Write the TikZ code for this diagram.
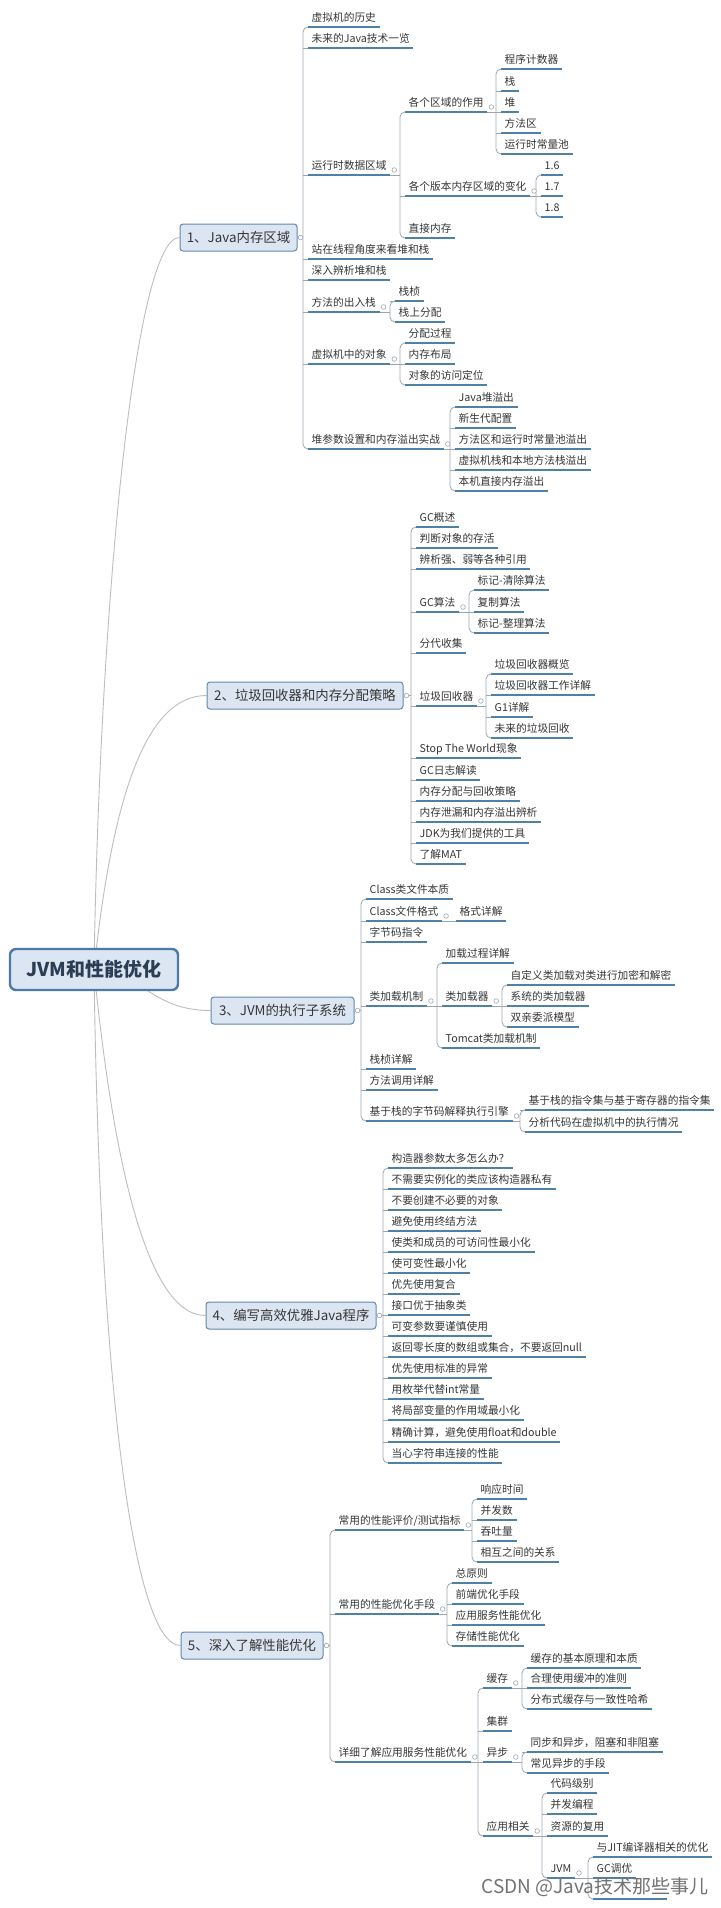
\documentclass[tikz,border=0pt]{standalone}
\usepackage{fontspec}
\setmainfont{Noto Sans CJK SC}
\usetikzlibrary{calc,backgrounds}
\definecolor{txt}{HTML}{363636}
\definecolor{ulc}{HTML}{4F80A6}
\definecolor{cnc}{HTML}{9CA6B0}
\definecolor{rootc}{HTML}{BEBEBE}
\definecolor{boxf}{HTML}{DCE6F2}
\definecolor{boxd}{HTML}{6586AE}
\definecolor{rootd}{HTML}{4C7AAE}
\definecolor{roott}{HTML}{2C3E55}
\newcommand\lfn[4]{\node[leaf] (#1) at (#2,#3) {#4};\draw[uline] (#1.south west) -- (#1.south east);}
\newcommand\mfam[4]{%
  \coordinate (trk) at ($(#2.south west)+(-5,0)$);
  \draw[conn, rounded corners=5pt] (#2.south west) -- (trk) -- (trk |- #3.south west) -- (#3.south west);
  \draw[conn] (#1) -- (#1 -| trk);
  \foreach \c in {#4} {\draw[conn] (\c.south west) -- (\c.south west -| trk);}
}
\begin{document}
\begin{tikzpicture}[x=1pt,y=-1pt,
  leaf/.style={anchor=south west, inner xsep=3.5pt, inner ysep=3pt, text height=9pt, text depth=2pt,
    font=\fontsize{10.7}{12}\selectfont, text=txt},
  uline/.style={draw=ulc, line width=1.6pt},
  conn/.style={draw=cnc, line width=0.8pt},
  rcurve/.style={draw=rootc, line width=0.9pt},
  br/.style={draw=boxd, fill=boxf, rounded corners=3pt, line width=1pt, minimum height=27pt,
    font=\fontsize{13.4}{15}\selectfont, text=txt, inner sep=0pt},
  rootbox/.style={draw=rootd, fill=boxf, rounded corners=6pt, line width=2.4pt, minimum width=168pt,
    minimum height=41pt, font=\bfseries\fontsize{19}{21}\selectfont, text=roott, inner sep=0pt},
  dotc/.style={circle, draw=cnc, fill=white, line width=0.6pt, inner sep=0pt, minimum size=4.6pt}
]
\useasboundingbox (0,0) rectangle (720,1908);

% root and main branches
\node[rootbox] (R) at (94,969.5) {JVM和性能优化};
\node[br, minimum width=117pt] (B1) at (238.5,237.5) {1、Java内存区域};
\node[br, minimum width=196pt] (B2) at (305,695.5) {2、垃圾回收器和内存分配策略};
\node[br, minimum width=143pt] (B3) at (282.5,1010.5) {3、JVM的执行子系统};
\node[br, minimum width=170pt] (B4) at (291,1315.5) {4、编写高效优雅Java程序};
\node[br, minimum width=142pt] (B5) at (252,1645.5) {5、深入了解性能优化};

% branch 1
\lfn{a1}{308}{27}{虚拟机的历史}
\lfn{a2}{308}{48}{未来的Java技术一览}
\lfn{a3}{308}{175}{运行时数据区域}
\lfn{a31}{405}{112}{各个区域的作用}
\lfn{a311}{501}{69}{程序计数器}
\lfn{a312}{501}{91}{栈}
\lfn{a313}{501}{112}{堆}
\lfn{a314}{501}{133}{方法区}
\lfn{a315}{501}{154}{运行时常量池}
\lfn{a32}{405}{196}{各个版本内存区域的变化}
\lfn{a321}{541}{175}{1.6}
\lfn{a322}{541}{196}{1.7}
\lfn{a323}{541}{217}{1.8}
\lfn{a33}{405}{238}{直接内存}
\lfn{a4}{308}{259}{站在线程角度来看堆和栈}
\lfn{a5}{308}{280}{深入辨析堆和栈}
\lfn{a6}{308}{312}{方法的出入栈}
\lfn{a61}{395}{301}{栈桢}
\lfn{a62}{395}{322}{栈上分配}
\lfn{a7}{308}{364}{虚拟机中的对象}
\lfn{a71}{405}{343}{分配过程}
\lfn{a72}{405}{364}{内存布局}
\lfn{a73}{405}{385}{对象的访问定位}
\lfn{a8}{308}{449}{堆参数设置和内存溢出实战}
\lfn{a81}{455}{407}{Java堆溢出}
\lfn{a82}{455}{428}{新生代配置}
\lfn{a83}{455}{449}{方法区和运行时常量池溢出}
\lfn{a84}{455}{470}{虚拟机栈和本地方法栈溢出}
\lfn{a85}{455}{491}{本机直接内存溢出}

% branch 2
\lfn{b1}{416}{527}{GC概述}
\lfn{b2}{416}{548}{判断对象的存活}
\lfn{b3}{416}{569}{辨析强、弱等各种引用}
\lfn{b4}{416}{612}{GC算法}
\lfn{b41}{474}{590}{标记-清除算法}
\lfn{b42}{474}{612}{复制算法}
\lfn{b43}{474}{633}{标记-整理算法}
\lfn{b5}{416}{653}{分代收集}
\lfn{b6}{416}{706}{垃圾回收器}
\lfn{b61}{491}{674}{垃圾回收器概览}
\lfn{b62}{491}{695}{垃圾回收器工作详解}
\lfn{b63}{491}{717}{G1详解}
\lfn{b64}{491}{738}{未来的垃圾回收}
\lfn{b7}{416}{758}{Stop The World现象}
\lfn{b8}{416}{780}{GC日志解读}
\lfn{b9}{416}{801}{内存分配与回收策略}
\lfn{b10}{416}{822}{内存泄漏和内存溢出辨析}
\lfn{b11}{416}{843}{JDK为我们提供的工具}
\lfn{b12}{416}{864}{了解MAT}

% branch 3
\lfn{c1}{366}{899}{Class类文件本质}
\lfn{c2}{366}{921}{Class文件格式}
\lfn{c21}{456}{921}{格式详解}
\lfn{c3}{366}{942}{字节码指令}
\lfn{c4}{366}{1006}{类加载机制}
\lfn{c41}{442}{963}{加载过程详解}
\lfn{c42}{442}{1006}{类加载器}
\lfn{c421}{507}{985}{自定义类加载对类进行加密和解密}
\lfn{c422}{507}{1006}{系统的类加载器}
\lfn{c423}{507}{1027}{双亲委派模型}
\lfn{c43}{442}{1048}{Tomcat类加载机制}
\lfn{c5}{366}{1069}{栈桢详解}
\lfn{c6}{366}{1090}{方法调用详解}
\lfn{c7}{366}{1121}{基于栈的字节码解释执行引擎}
\lfn{c71}{525}{1110}{基于栈的指令集与基于寄存器的指令集}
\lfn{c72}{525}{1132}{分析代码在虚拟机中的执行情况}

% branch 4
\lfn{d1}{388}{1168}{构造器参数太多怎么办？}
\lfn{d2}{388}{1189}{不需要实例化的类应该构造器私有}
\lfn{d3}{388}{1210}{不要创建不必要的对象}
\lfn{d4}{388}{1231}{避免使用终结方法}
\lfn{d5}{388}{1252}{使类和成员的可访问性最小化}
\lfn{d6}{388}{1273}{使可变性最小化}
\lfn{d7}{388}{1294}{优先使用复合}
\lfn{d8}{388}{1315}{接口优于抽象类}
\lfn{d9}{388}{1336}{可变参数要谨慎使用}
\lfn{d10}{388}{1357}{返回零长度的数组或集合，不要返回null}
\lfn{d11}{388}{1378}{优先使用标准的异常}
\lfn{d12}{388}{1399}{用枚举代替int常量}
\lfn{d13}{388}{1420}{将局部变量的作用域最小化}
\lfn{d14}{388}{1442}{精确计算，避免使用float和double}
\lfn{d15}{388}{1463}{当心字符串连接的性能}

% branch 5
\lfn{e1}{335}{1530}{常用的性能评价/测试指标}
\lfn{e11}{477}{1499}{响应时间}
\lfn{e12}{477}{1520}{并发数}
\lfn{e13}{477}{1541}{吞吐量}
\lfn{e14}{477}{1562}{相互之间的关系}
\lfn{e2}{335}{1614}{常用的性能优化手段}
\lfn{e21}{452}{1583}{总原则}
\lfn{e22}{452}{1604}{前端优化手段}
\lfn{e23}{452}{1625}{应用服务性能优化}
\lfn{e24}{452}{1646}{存储性能优化}
\lfn{e3}{335}{1762}{详细了解应用服务性能优化}
\lfn{e31}{483}{1688}{缓存}
\lfn{e311}{527}{1668}{缓存的基本原理和本质}
\lfn{e312}{527}{1688}{合理使用缓冲的准则}
\lfn{e313}{527}{1709}{分布式缓存与一致性哈希}
\lfn{e32}{483}{1731}{集群}
\lfn{e33}{483}{1762}{异步}
\lfn{e331}{527}{1752}{同步和异步，阻塞和非阻塞}
\lfn{e332}{527}{1773}{常见异步的手段}
\lfn{e34}{483}{1836}{应用相关}
\lfn{e341}{547}{1793}{代码级别}
\lfn{e342}{547}{1814}{并发编程}
\lfn{e343}{547}{1836}{资源的复用}
\lfn{e344}{547}{1878}{JVM}
\lfn{e3441}{593}{1857}{与JIT编译器相关的优化}
\lfn{e3442}{593}{1878}{GC调优}
\node[leaf, minimum width=74pt] (e3443) at (593,1899) {};
\draw[uline] (e3443.south west) -- (e3443.south east);

% connectors
\mfam{B1.east}{a1}{a8}{a2,a3,a4,a5,a6,a7}
\mfam{a3.south east}{a31}{a33}{a32}
\mfam{a31.south east}{a311}{a315}{a312,a313,a314}
\mfam{a32.south east}{a321}{a323}{a322}
\mfam{a6.south east}{a61}{a62}{a61}
\mfam{a7.south east}{a71}{a73}{a72}
\mfam{a8.south east}{a81}{a85}{a82,a83,a84}
\mfam{B2.east}{b1}{b12}{b2,b3,b4,b5,b6,b7,b8,b9,b10,b11}
\mfam{b4.south east}{b41}{b43}{b42}
\mfam{b6.south east}{b61}{b64}{b62,b63}
\mfam{B3.east}{c1}{c7}{c2,c3,c4,c5,c6}
\draw[conn] (c2.south east) -- (c21.south west);
\mfam{c4.south east}{c41}{c43}{c42}
\mfam{c42.south east}{c421}{c423}{c422}
\mfam{c7.south east}{c71}{c72}{c71}
\mfam{B4.east}{d1}{d15}{d2,d3,d4,d5,d6,d7,d8,d9,d10,d11,d12,d13,d14}
\mfam{B5.east}{e1}{e3}{e2}
\mfam{e1.south east}{e11}{e14}{e12,e13}
\mfam{e2.south east}{e21}{e24}{e22,e23}
\mfam{e3.south east}{e31}{e34}{e32,e33}
\mfam{e31.south east}{e311}{e313}{e312}
\mfam{e33.south east}{e331}{e332}{e331}
\mfam{e34.south east}{e341}{e344}{e342,e343}
\mfam{e344.south east}{e3441}{e3443}{e3442}

% collapse dots
\foreach \p in {B1,B2,B3,B4,B5} {\node[dotc] at ($(\p.east)+(3,0)$) {};}
\foreach \p in {a3,a31,a32,a6,a7,a8,b4,b6,c2,c4,c42,c7,e1,e2,e3,e31,e33,e34,e344}
  {\node[dotc] at ($(\p.south east)+(4,-5)$) {};}

% watermark
\node[font=\fontsize{19}{21}\selectfont, text=black!55, anchor=east] (wm) at (712,1887) {CSDN @Java技术那些事儿};

\begin{pgfonlayer}{background}
\fill[white] (0,0) rectangle (720,1908);
\draw[rcurve] (R.center) .. controls (100,600) and (135,237.5) .. (B1.west);
\draw[rcurve] (R.center) .. controls (112,800) and (145,695.5) .. (B2.west);
\draw[rcurve] (R.center) .. controls (140,970) and (150,1010.5) .. (B3.west);
\draw[rcurve] (R.center) .. controls (112,1150) and (145,1315.5) .. (B4.west);
\draw[rcurve] (R.center) .. controls (100,1400) and (135,1645.5) .. (B5.west);
\end{pgfonlayer}
\end{tikzpicture}
\end{document}
